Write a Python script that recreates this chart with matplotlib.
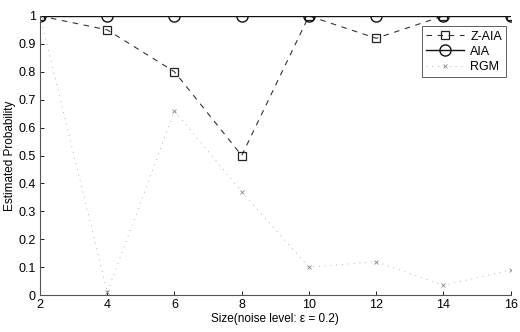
import matplotlib
matplotlib.use("Agg")
import matplotlib.pyplot as plt

sizes = [2, 4, 6, 8, 10, 12, 14, 16]
z_aia = [1.0, 0.95, 0.80, 0.50, 1.0, 0.92, 1.0, 1.0]
aia = [1.0, 1.0, 1.0, 1.0, 1.0, 1.0, 1.0, 1.0]
rgm = [1.0, 0.01, 0.66, 0.37, 0.10, 0.12, 0.035, 0.09]
yticks = [0, 0.1, 0.2, 0.3, 0.4, 0.5, 0.6, 0.7, 0.8, 0.9, 1]
ytick_labels = ["0", "0.1", "0.2", "0.3", "0.4", "0.5", "0.6", "0.7", "0.8", "0.9", "1"]

plt.rcParams['font.family'] = ['Liberation Sans', 'DejaVu Sans']

fig = plt.figure(figsize=(5.2, 3.32), dpi=100)
ax = fig.add_axes([0.077, 0.111, 0.905, 0.841])

ax.plot(sizes, z_aia, linestyle=(0, (5, 5)), color='#333333', lw=0.8,
        marker='s', markersize=6, markerfacecolor='none', markeredgecolor='#222222',
        markeredgewidth=0.9, label='Z-AIA')
ax.plot(sizes, aia, linestyle='-', color='#111111', lw=1.0,
        marker='o', markersize=8, markerfacecolor='none', markeredgecolor='#111111',
        markeredgewidth=1.0, label='AIA')
ax.plot(sizes, rgm, linestyle=(0, (1, 6)), color='#999999', lw=0.6,
        marker='x', markersize=3, markeredgecolor='#888888', markeredgewidth=0.6,
        label='RGM')

ax.set_xlim(2, 16)
ax.set_ylim(0, 1)
ax.set_xticks(sizes)
ax.set_yticks(yticks)
ax.set_yticklabels(ytick_labels)
ax.tick_params(direction='in', length=3, labelsize=9, width=0.6, pad=3)
for s in ['top', 'right']:
    ax.spines[s].set_visible(False)
ax.spines['left'].set_color('#555555')
ax.spines['bottom'].set_color('#555555')

ax.set_xlabel('Size(noise level: ε = 0.2)', fontsize=8.5, labelpad=1)
ax.set_ylabel('Estimated Probability', fontsize=8.5, labelpad=2)

leg = ax.legend(loc='upper right', bbox_to_anchor=(1.004, 0.985), fontsize=9,
                frameon=True, fancybox=False, edgecolor='#333333',
                handlelength=3, borderpad=0.35, labelspacing=0.25, handletextpad=0.5)
leg.get_frame().set_linewidth(0.7)

fig.savefig('out.png', dpi=100)
